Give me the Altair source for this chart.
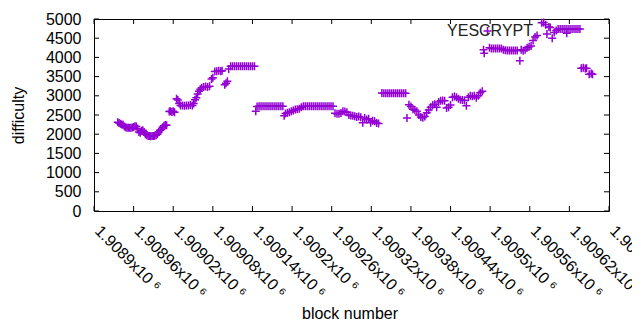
import altair as alt
import pandas as pd

# ---- data (block number, difficulty) ----
blocks = [
    # first dip
    1908936, 1908938, 1908940, 1908942, 1908944, 1908946, 1908948, 1908950,
    1908952, 1908954, 1908956, 1908958, 1908960, 1908962, 1908964, 1908966,
    1908968, 1908970, 1908972, 1908974, 1908976, 1908978, 1908980, 1908982,
    1908984, 1908986, 1908988, 1908990, 1908992, 1908994, 1908996, 1908998,
    1909000, 1909002, 1909004, 1909006, 1909008, 1909010,
    # rise to 3770
    1909014, 1909016, 1909018, 1909020, 1909022, 1909025, 1909027, 1909029,
    1909031, 1909034, 1909037, 1909040, 1909043, 1909046, 1909049, 1909051,
    1909053, 1909055, 1909057, 1909059, 1909061, 1909063, 1909066, 1909069,
    1909072, 1909075, 1909078, 1909080, 1909083, 1909086, 1909089, 1909092,
    1909094, 1909098, 1909100, 1909102, 1909104, 1909107, 1909110, 1909113,
    1909116, 1909119, 1909122, 1909125, 1909128, 1909131, 1909134, 1909137,
    1909140, 1909143,
    # 2725 plateaus
    1909145, 1909147, 1909150, 1909153, 1909156, 1909159, 1909162, 1909165,
    1909168, 1909171, 1909174, 1909177, 1909180, 1909183, 1909186, 1909188,
    1909190, 1909193, 1909196, 1909199, 1909202, 1909205, 1909208, 1909211,
    1909214, 1909217, 1909220, 1909223, 1909226, 1909229, 1909232, 1909235,
    1909238, 1909241, 1909244, 1909247, 1909250, 1909253, 1909256, 1909259,
    1909262, 1909265, 1909268, 1909271, 1909274, 1909277, 1909280, 1909283,
    1909286, 1909289, 1909292, 1909295, 1909298, 1909301, 1909304, 1909307,
    1909310, 1909313, 1909316, 1909319, 1909322, 1909325, 1909328, 1909331,
    # 3065 plateau and second dip
    1909336, 1909339, 1909342, 1909345, 1909348, 1909351, 1909354, 1909357,
    1909360, 1909363, 1909366, 1909369, 1909372, 1909374, 1909377, 1909380,
    1909383, 1909386, 1909389, 1909392, 1909395, 1909398, 1909401, 1909404,
    1909407, 1909410, 1909413, 1909416, 1909419, 1909422, 1909425, 1909428,
    1909431, 1909434, 1909437, 1909440, 1909443, 1909446, 1909449, 1909452,
    1909455, 1909458, 1909461, 1909464, 1909467, 1909470, 1909473, 1909476,
    1909479, 1909482, 1909485, 1909488,
    # jump to 4200+
    1909490, 1909491, 1909496, 1909499, 1909502, 1909505, 1909508, 1909511,
    1909514, 1909517, 1909520, 1909523, 1909526, 1909529, 1909532, 1909535,
    1909538, 1909541, 1909545, 1909547, 1909550, 1909553, 1909556, 1909559,
    1909562, 1909565, 1909568, 1909571, 1909578, 1909581, 1909584, 1909586,
    1909589, 1909591, 1909594, 1909597, 1909600, 1909603, 1909606, 1909609,
    1909612, 1909615, 1909616, 1909618, 1909621, 1909624, 1909627, 1909630,
    1909633, 1909636,
    # final drop
    1909638, 1909641, 1909644, 1909646, 1909650, 1909653, 1909655,
]

difficulty = [
    # first dip
    2310, 2290, 2270, 2250, 2245, 2200, 2180, 2170,
    2165, 2170, 2165, 2175, 2190, 2210, 2200, 2150,
    2060, 2040, 2090, 2100, 2060, 2000, 1970, 1950,
    1950, 1945, 1950, 1955, 1960, 1970, 2000, 2060,
    2100, 2120, 2180, 2220, 2240, 2230,
    # rise to 3770
    2590, 2600, 2580, 2600, 2570, 2920, 2890, 2800,
    2750, 2750, 2740, 2750, 2750, 2760, 2750, 2800,
    2900, 2950, 3050, 3120, 3170, 3210, 3230, 3240,
    3230, 3250, 3440, 3470, 3630, 3640, 3650, 3640,
    3650, 3290, 3330, 3380, 3700, 3770, 3770, 3770,
    3770, 3770, 3770, 3770, 3770, 3770, 3770, 3770,
    3770, 3770,
    # 2725 plateaus
    2600, 2720, 2725, 2725, 2725, 2725, 2725, 2725,
    2725, 2725, 2725, 2725, 2725, 2725, 2725, 2480,
    2540, 2560, 2570, 2600, 2620, 2640, 2650, 2660,
    2700, 2725, 2725, 2725, 2725, 2725, 2725, 2725,
    2725, 2725, 2725, 2725, 2725, 2725, 2725, 2725,
    2725, 2545, 2530, 2530, 2550, 2600, 2590, 2570,
    2500, 2490, 2480, 2470, 2450, 2460, 2440, 2300,
    2420, 2380, 2400, 2300, 2350, 2340, 2290, 2280,
    # 3065 plateau and second dip
    3070, 3065, 3065, 3065, 3065, 3065, 3065, 3065,
    3065, 3065, 3065, 3065, 3065, 2420, 2770, 2720,
    2650, 2630, 2600, 2500, 2450, 2430, 2460, 2560,
    2630, 2700, 2760, 2780, 2700, 2840, 2870, 2880,
    2870, 2680, 2700, 2760, 2960, 2980, 2960, 2920,
    2900, 2890, 2880, 2740, 2960, 3000, 2990, 3000,
    2950, 3000, 3080, 3120,
    # jump to 4200+
    4200, 4110, 4690, 4250, 4235, 4235, 4235, 4235,
    4235, 4235, 4200, 4185, 4180, 4180, 4180, 4180,
    4180, 4180, 3910, 4200, 4170, 4200, 4250, 4280,
    4300, 4440, 4530, 4570, 4900, 4910, 4850, 4610,
    4790, 4780, 4500, 4650, 4700, 4740, 4740, 4740,
    4740, 4740, 4630, 4740, 4740, 4740, 4740, 4740,
    4740, 4740,
    # final drop
    3720, 3730, 3710, 3720, 3560, 3580, 3560,
]

x_ticks = [1908900, 1908960, 1909020, 1909080, 1909140, 1909200, 1909260,
           1909320, 1909380, 1909440, 1909500, 1909560, 1909620, 1909680]
y_ticks = [0, 500, 1000, 1500, 2000, 2500, 3000, 3500, 4000, 4500, 5000]

series_name = "YESCRYPT"
x_title = "block number"
y_title = "difficulty"

W, H = 515, 192
FONT = "Liberation Sans"
PURPLE = "#9400d3"

df = pd.DataFrame({"block": blocks, "difficulty": difficulty})
xs = alt.Scale(domain=[x_ticks[0], x_ticks[-1]], nice=False, zero=False)
ys = alt.Scale(domain=[y_ticks[0], y_ticks[-1]], nice=False, zero=False)

x_axis = alt.Axis(
    values=x_ticks,
    labelExpr="format(datum.value / 1000000, '.5~f') + 'x10 \u2076'",
    labelAngle=45, labelAlign="left", labelBaseline="middle",
    labelPadding=17, labelOffset=3, labelFlush=False, labelOverlap=False,
    labelFont=FONT, labelFontSize=16, labelColor="black",
    ticks=False, domain=False, grid=False,
    title=x_title, titleFont=FONT, titleFontSize=16, titleFontWeight="normal",
    titleColor="black", titleX=W / 2 - 2, titleY=107, titleBaseline="alphabetic",
)
y_axis = alt.Axis(
    values=y_ticks, format="d",
    labelFont=FONT, labelFontSize=16, labelColor="black", labelPadding=13,
    labelFlush=False, labelOverlap=False,
    ticks=False, domain=False, grid=False,
    title=y_title, titleFont=FONT, titleFontSize=16, titleFontWeight="normal",
    titleColor="black", titleAngle=-90, titleX=-76, titleY=H / 2,
    titleBaseline="middle", titleAlign="center",
)

points = alt.Chart(df).mark_point(
    shape="M-1,0L1,0M0,-1L0,1", filled=False, size=64, strokeWidth=1.5,
    color=PURPLE, opacity=1,
).encode(
    x=alt.X("block:Q", scale=xs, axis=x_axis, title=x_title),
    y=alt.Y("difficulty:Q", scale=ys, axis=y_axis, title=y_title),
)

ydf = pd.DataFrame({"difficulty": y_ticks})
xdf = pd.DataFrame({"block": x_ticks})
tick_style = dict(color="black", strokeWidth=1)
yenc = alt.Y("difficulty:Q", scale=ys, axis=y_axis, title=y_title)
xenc = alt.X("block:Q", scale=xs, axis=x_axis, title=x_title)
yt_left = alt.Chart(ydf).mark_rule(**tick_style).encode(
    y=yenc, x=alt.value(0), x2=alt.value(5))
yt_right = alt.Chart(ydf).mark_rule(**tick_style).encode(
    y=yenc, x=alt.value(W - 5), x2=alt.value(W))
xt_bot = alt.Chart(xdf).mark_rule(**tick_style).encode(
    x=xenc, y=alt.value(H - 5), y2=alt.value(H))
xt_top = alt.Chart(xdf).mark_rule(**tick_style).encode(
    x=xenc, y=alt.value(0), y2=alt.value(5))

key = alt.Chart(pd.DataFrame({"t": [series_name]})).mark_text(
    align="right", baseline="middle", font=FONT, fontSize=16, color="#222222",
).encode(text="t:N", x=alt.value(439), y=alt.value(12))

chart = alt.layer(points, yt_left, yt_right, xt_bot, xt_top, key).properties(
    width=W, height=H,
    autosize=alt.AutoSizeParams(type="none"),
    padding={"left": 86, "top": 11, "right": 23, "bottom": 109},
).configure_view(stroke="black", strokeWidth=1)

chart.save("out.html", embed_options={"renderer": "svg", "actions": False})
